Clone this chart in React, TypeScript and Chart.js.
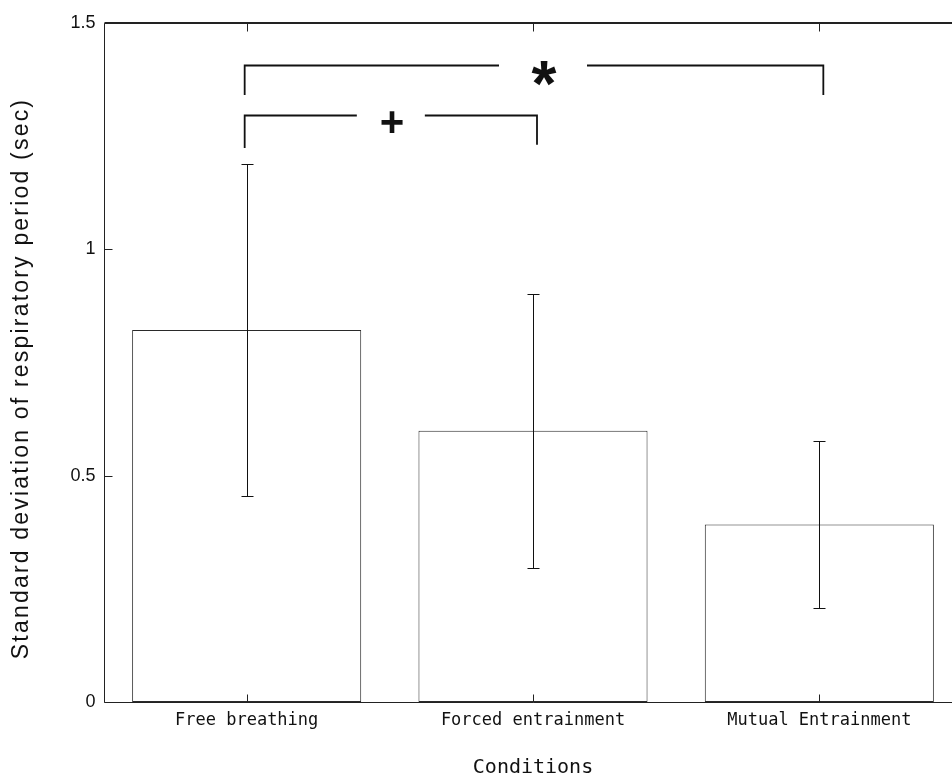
import React, { useEffect, useRef } from "react";
import { Chart, registerables } from "chart.js";
Chart.register(...registerables);

const categories = ["Free breathing", "Forced entrainment", "Mutual Entrainment"];
const means = [0.822, 0.599, 0.392];
const sds = [0.366, 0.302, 0.184];
const yTickValues = [0, 0.5, 1, 1.5];
const yTitle = "Standard deviation of respiratory period (sec)";
const xTitle = "Conditions";
const bracketStart = [0, 0];
const bracketEnd = [2, 1];
const bracketTop = [1.407, 1.297];
const bracketLeftFoot = [1.341, 1.224];
const bracketRightFoot = [1.341, 1.231];
const bracketMarks = ["*", "+"];

const AXIS = "#222";

const overlay = {
  id: "overlay",
  afterDatasetsDraw(chart: any) {
    const { ctx, chartArea: a, scales } = chart;
    const x = scales.x;
    const y = scales.y;
    ctx.save();
    // error bars
    ctx.strokeStyle = "#111";
    ctx.lineWidth = 1;
    means.forEach((m, i) => {
      const cx = Math.round(x.getPixelForValue(i)) + 0.5;
      const yt = Math.round(y.getPixelForValue(m + sds[i])) + 0.5;
      const yb = Math.round(y.getPixelForValue(m - sds[i])) + 0.5;
      ctx.beginPath();
      ctx.moveTo(cx, yt);
      ctx.lineTo(cx, yb);
      ctx.moveTo(cx - 6, yt);
      ctx.lineTo(cx + 6, yt);
      ctx.moveTo(cx - 6, yb);
      ctx.lineTo(cx + 6, yb);
      ctx.stroke();
    });
    // axes box
    ctx.strokeStyle = AXIS;
    ctx.lineWidth = 1;
    const L = Math.round(a.left) + 0.5;
    const B = Math.round(a.bottom) + 0.5;
    const T = Math.round(a.top) + 0.5;
    ctx.beginPath();
    ctx.moveTo(L, T);
    ctx.lineTo(L, B);
    ctx.lineTo(a.right, B);
    ctx.stroke();
    ctx.lineWidth = 2;
    ctx.beginPath();
    ctx.moveTo(L, Math.round(a.top));
    ctx.lineTo(a.right, Math.round(a.top));
    ctx.stroke();
    ctx.lineWidth = 1;
    ctx.beginPath();
    yTickValues.forEach((v) => {
      const py = Math.round(y.getPixelForValue(v)) + 0.5;
      ctx.moveTo(L, py);
      ctx.lineTo(L + 8, py);
    });
    categories.forEach((_, i) => {
      const px = Math.round(x.getPixelForValue(i)) + 0.5;
      ctx.moveTo(px, B);
      ctx.lineTo(px, B - 8);
      ctx.moveTo(px, T);
      ctx.lineTo(px, T + 8);
    });
    ctx.stroke();
    // significance brackets
    ctx.strokeStyle = "#111";
    ctx.lineWidth = 1.8;
    ctx.fillStyle = "#111";
    bracketMarks.forEach((mark, k) => {
      const x0 = x.getPixelForValue(bracketStart[k]) - 2;
      const x1 = x.getPixelForValue(bracketEnd[k]) + 4;
      const yt = Math.round(y.getPixelForValue(bracketTop[k])) + 0.5;
      const yl = y.getPixelForValue(bracketLeftFoot[k]);
      const yr = y.getPixelForValue(bracketRightFoot[k]);
      const isStar = mark === "*";
      ctx.font = isStar ? "bold 64px 'Liberation Sans'" : "bold 42px 'Liberation Sans'";
      const mx = (x0 + x1) / 2 + (isStar ? 9 : 0);
      const gap = isStar ? 44 : 34;
      ctx.beginPath();
      ctx.moveTo(x0, yl);
      ctx.lineTo(x0, yt);
      ctx.lineTo(mx - gap, yt);
      ctx.moveTo(mx + gap, yt);
      ctx.lineTo(x1, yt);
      ctx.lineTo(x1, yr);
      ctx.stroke();
      const m = ctx.measureText(mark);
      const cy = yt + (isStar ? 8 : 6);
      const tx = mx + 1 - (m.actualBoundingBoxRight - m.actualBoundingBoxLeft) / 2;
      const ty = cy + (m.actualBoundingBoxAscent - m.actualBoundingBoxDescent) / 2;
      ctx.textBaseline = "alphabetic";
      ctx.textAlign = "left";
      ctx.fillText(mark, tx, ty);
    });
    ctx.restore();
  },
  afterDraw(chart: any) {
    const { ctx, chartArea: a } = chart;
    ctx.save();
    ctx.fillStyle = "#111";
    ctx.font = "23px 'Liberation Sans'";
    (ctx as any).letterSpacing = "2.2px";
    ctx.textAlign = "center";
    ctx.textBaseline = "middle";
    ctx.translate(22, (a.top + a.bottom) / 2 + 16);
    ctx.rotate(-Math.PI / 2);
    ctx.fillText(yTitle, 0, 0);
    ctx.restore();
  },
};

export default function App() {
  const ref = useRef<HTMLCanvasElement>(null);
  useEffect(() => {
    if (!ref.current) return;
    const chart = new Chart(ref.current, {
      type: "bar",
      data: {
        labels: categories,
        datasets: [
          {
            data: means,
            backgroundColor: "#ffffff",
            borderColor: "#2a2a2a",
            borderWidth: 1,
            borderSkipped: false,
            barPercentage: 0.8,
            categoryPercentage: 1,
          },
        ],
      },
      options: {
        responsive: false,
        animation: false,
        devicePixelRatio: 1,
        layout: { padding: { left: 0, right: 27.5, top: 23, bottom: 0 } },
        plugins: { legend: { display: false }, tooltip: { enabled: false } },
        scales: {
          x: {
            offset: true,
            grid: { display: false, drawTicks: false },
            border: { display: false },
            ticks: {
              color: "#111",
              padding: 8,
              maxRotation: 0,
              font: { family: "'DejaVu Sans Mono'", size: 17 },
            },
            title: {
              display: true,
              text: xTitle,
              color: "#111",
              padding: { top: 0, bottom: 0 },
              font: { family: "'DejaVu Sans Mono'", size: 20 },
            },
            afterFit: (s: any) => {
              s.height = 78;
            },
          },
          y: {
            min: 0,
            max: 1.5,
            grid: { display: false, drawTicks: false },
            border: { display: false },
            afterBuildTicks: (s: any) => {
              s.ticks = yTickValues.map((v) => ({ value: v }));
            },
            ticks: {
              color: "#111",
              padding: 8,
              font: { family: "'Liberation Sans'", size: 18 },
              callback: (v: any) => String(v),
            },
            title: { display: false },
            afterFit: (s: any) => {
              s.width = 103.5;
            },
          },
        },
      },
      plugins: [overlay],
    });
    return () => chart.destroy();
  }, []);
  return (
    <div
      style={{
        position: "absolute",
        left: 0,
        top: 0,
        width: 952,
        height: 780,
        overflow: "hidden",
        background: "#fff",
      }}
    >
      <canvas ref={ref} width={990} height={780} style={{ display: "block", width: 990, height: 780 }} />
    </div>
  );
}
